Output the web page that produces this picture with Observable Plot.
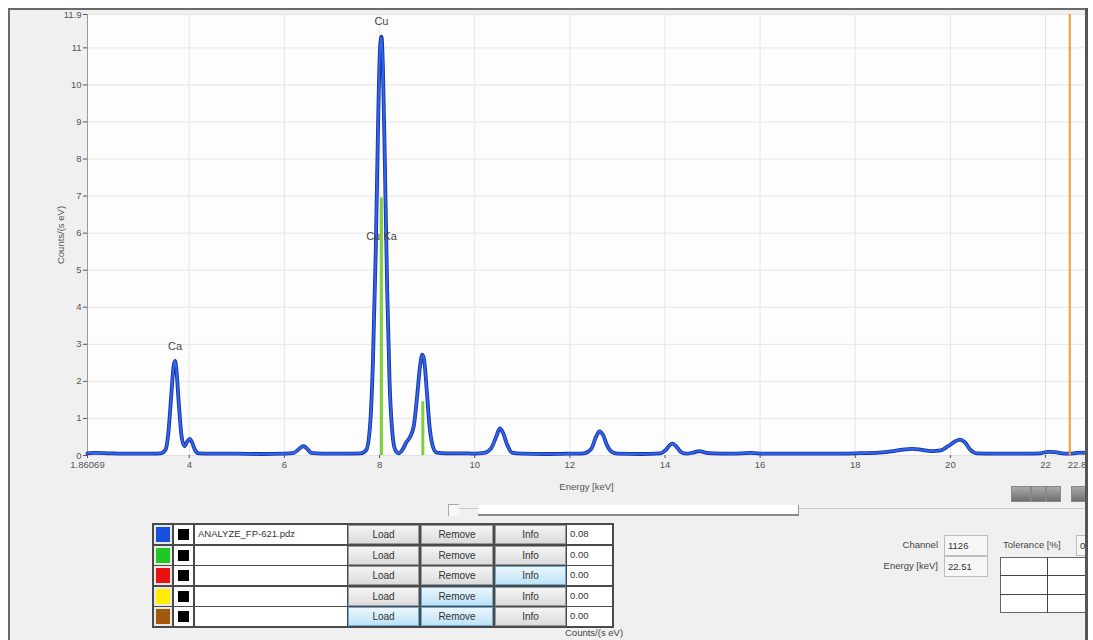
<!DOCTYPE html>
<html><head><meta charset="utf-8">
<script src="https://cdn.jsdelivr.net/npm/d3@7"></script>
<script src="https://cdn.jsdelivr.net/npm/@observablehq/plot@0.6"></script>
<style>
body{margin:0;background:#fff;font-family:"Liberation Sans",Arial,sans-serif;}
#wrap{position:relative;width:1093px;height:640px;overflow:hidden;background:#fff;}
#frame{position:absolute;left:8px;top:8px;width:1076px;height:640px;background:#f0f0f0;border-left:2px solid #6a6a6a;border-top:2px solid #6a6a6a;border-right:3px solid #555;}
#chart{position:absolute;left:0;top:0;}
.abs{position:absolute;}
.btn{position:absolute;box-sizing:border-box;border:1px solid #9a9a9a;background:linear-gradient(#f4f4f4,#dcdcdc);font-size:10px;color:#333;text-align:center;line-height:17px;}
.btn.hi{border-color:#6fa8d0;background:linear-gradient(#eaf6fd,#bde3f7);}
.fld{position:absolute;box-sizing:border-box;background:#fff;font-size:9.5px;color:#333;line-height:17px;padding-left:3px;}
.lab{position:absolute;font-size:9.5px;color:#444;}
.box{position:absolute;box-sizing:border-box;border:1px solid #bdbdbd;background:#f6f6f6;font-size:9.5px;color:#333;padding-left:3px;line-height:19px;}
</style>
</head><body>
<div id="wrap">
  <div id="frame"></div>
  <div id="chart"></div>
  <div id="ui"></div>
</div>
<script>
// ---- spectrum data ----
const energy = [1.86,2.0,2.3,2.6,2.9,3.2,3.4,3.5,3.56,3.62,3.67,3.70,3.73,3.78,3.84,3.90,3.96,4.01,4.06,4.12,4.2,4.5,5.0,5.5,6.0,6.2,6.3,6.4,6.48,6.56,6.8,7.2,7.6,7.72,7.80,7.86,7.92,7.97,8.01,8.04,8.07,8.11,8.16,8.21,8.27,8.33,8.40,8.48,8.56,8.64,8.72,8.79,8.85,8.90,8.94,8.99,9.05,9.12,9.2,9.4,9.7,10.0,10.2,10.35,10.45,10.53,10.6,10.68,10.78,11.0,11.5,12.0,12.3,12.45,12.55,12.62,12.7,12.78,12.88,13.0,13.5,13.9,14.02,14.1,14.16,14.24,14.33,14.45,14.6,14.72,14.85,15.0,15.4,15.8,16.1,16.5,17.0,17.5,18.0,18.5,18.8,19.0,19.2,19.4,19.6,19.8,19.95,20.1,20.2,20.3,20.42,20.55,21.0,21.5,21.9,22.05,22.2,22.4,22.6,22.75,22.84];
const counts = [0.06,0.07,0.06,0.05,0.05,0.05,0.06,0.15,0.6,1.6,2.4,2.55,2.3,1.4,0.5,0.25,0.38,0.45,0.35,0.15,0.06,0.05,0.05,0.04,0.05,0.07,0.17,0.25,0.18,0.07,0.05,0.05,0.06,0.15,0.8,2.5,5.5,9.0,11.0,11.3,10.5,8.0,4.5,2.0,0.6,0.15,0.06,0.15,0.35,0.5,0.8,1.6,2.4,2.72,2.55,1.8,0.8,0.25,0.08,0.06,0.06,0.05,0.07,0.2,0.5,0.73,0.6,0.3,0.08,0.05,0.04,0.05,0.06,0.18,0.5,0.65,0.55,0.28,0.1,0.05,0.04,0.06,0.15,0.28,0.32,0.24,0.1,0.05,0.08,0.12,0.08,0.06,0.05,0.07,0.05,0.05,0.05,0.05,0.06,0.08,0.12,0.16,0.18,0.15,0.12,0.14,0.25,0.38,0.43,0.36,0.15,0.06,0.05,0.05,0.06,0.1,0.09,0.05,0.06,0.08,0.07];

// element lines (green markers)
const lineEnergy = [8.04, 8.91];
const lineHeight = [6.95, 1.45];

// peak labels
const labelText = ["Cu", "Cu Ka", "Ca"];
const labelE = [8.04, 8.04, 3.70];
const labelY = [11.7, 5.92, 2.95];

// cursor
const cursorEnergy = [22.51];

// axes
const xTicks = [1.86069, 4, 6, 8, 10, 12, 14, 16, 18, 20, 22];
const xEndTick = [22.84];
const yTicks = [0,1,2,3,4,5,6,7,8,9,10,11,11.9];
const xGrid = [4,6,8,10,12,14,16,18,20,22];
const yGrid = [1,2,3,4,5,6,7,8,9,10,11];

// UI table
const swatchColors = ["#1550e0", "#22c822", "#e81010", "#ffee00", "#a05a0a"];
const fileNames = ["ANALYZE_FP-621.pdz", "", "", "", ""];
const rowValues = ["0.08", "0.00", "0.00", "0.00", "0.00"];
const buttonNames = ["Load", "Remove", "Info"];
const highlighted = [[], [], ["Info"], ["Remove"], ["Load", "Remove"]];

const spectrum = energy.map((e, i) => ({e, c: counts[i]}));
const lines = lineEnergy.map((e, i) => ({e, h: lineHeight[i]}));
const labels = labelText.map((t, i) => ({t, e: labelE[i], y: labelY[i]}));

const chart = Plot.plot({
  width: 1093, height: 500,
  marginLeft: 87, marginRight: 8, marginTop: 14, marginBottom: 45,
  style: {background: "transparent", fontFamily: "Liberation Sans, Arial, sans-serif", fontSize: "10px", color: "#555"},
  x: {domain: [1.86069, 22.84]},
  y: {domain: [0, 11.9]},
  marks: [
    Plot.frame({fill: "#fdfdfd", stroke: "#e2e2e2"}),
    Plot.ruleX(xGrid, {stroke: "#e6e6e6"}),
    Plot.ruleY(yGrid, {stroke: "#e6e6e6"}),
    Plot.ruleX([22], {stroke: "#d8e6f2"}),
    Plot.ruleX([1.86069], {stroke: "#9a9a9a"}),
    Plot.axisX({ticks: xTicks, tickSize: 3, tickPadding: 3, tickFormat: d => d === 1.86069 ? "1.86069" : String(d),
      label: "Energy [keV]", labelAnchor: "center", labelArrow: "none", labelOffset: 34, fontSize: 9.5}),
    Plot.axisX({ticks: xEndTick, tickSize: 3, tickPadding: 3, tickFormat: d => String(d), textAnchor: "end", dx: 6, label: null, fontSize: 9.5}),
    Plot.axisY({ticks: yTicks, tickSize: 4, tickPadding: 2, tickFormat: d => String(d),
      label: "Counts/(s eV)", labelAnchor: "center", labelArrow: "none", labelOffset: 30, fontSize: 9.5}),
    Plot.line(spectrum, {x: "e", y: "c", stroke: "#1c2f9c", strokeWidth: 3.8, curve: "monotone-x"}),
    Plot.line(spectrum, {x: "e", y: "c", stroke: "#2d66ee", strokeWidth: 2.1, curve: "monotone-x"}),
    Plot.ruleX(lines, {x: "e", y1: 0, y2: "h", stroke: "#7fd23c", strokeWidth: 3}),
    Plot.ruleX(cursorEnergy, {stroke: "#f0a030", strokeWidth: 2}),
    Plot.text(labels, {x: "e", y: "y", text: "t", fill: "#444", fontSize: 11})
  ]
});
document.getElementById("chart").appendChild(chart);

// ---- UI widgets ----
const ui = document.getElementById("ui");
function add(cls, style, text) {
  const d = document.createElement("div");
  d.className = cls;
  Object.assign(d.style, style);
  if (text != null) d.textContent = text;
  ui.appendChild(d);
  return d;
}
// toolbar icons
[[1011,18],[1031,13],[1046,13],[1071,14]].forEach(([l,w]) => add("abs", {left: l+"px", top: "486px", width: w+"px", height: "14px", background: "linear-gradient(#a8a8a8,#707070)", border: "1px solid #888"}));
// scrollbar
add("abs", {left: "448px", top: "508px", width: "637px", height: "1px", background: "#c8c8c8"});
add("abs", {left: "448px", top: "504px", width: "10px", height: "11px", borderLeft: "1px solid #aaa", borderTop: "1px solid #aaa", background: "#f8f8f8"});
add("abs", {left: "478px", top: "505px", width: "320px", height: "9px", background: "#fff", borderBottom: "2px solid #8a8a8a", borderRight: "1px solid #999"});

// table
add("abs", {left: "152px", top: "523px", width: "462px", height: "105px", background: "#4a4a4a"});
const cols = {Load: [348, 71], Remove: [421, 72], Info: [495, 71]};
for (let i = 0; i < 5; i++) {
  const top = 525 + i * 20.6;
  add("abs", {left: "154px", top: top+"px", width: "18px", height: "19px", background: "#e8e8e8"});
  add("abs", {left: "156px", top: (top+2)+"px", width: "14px", height: "15px", background: swatchColors[i]});
  add("abs", {left: "174px", top: top+"px", width: "19px", height: "19px", background: "#fff"});
  add("abs", {left: "178px", top: (top+4)+"px", width: "11px", height: "11px", background: "#000"});
  add("fld", {left: "195px", top: top+"px", width: "152px", height: "19px"}, fileNames[i]);
  buttonNames.forEach(b => {
    add("btn" + (highlighted[i].includes(b) ? " hi" : ""), {left: cols[b][0]+"px", top: top+"px", width: cols[b][1]+"px", height: "19px"}, b);
  });
  add("fld", {left: "567px", top: top+"px", width: "45px", height: "19px"}, rowValues[i]);
}
add("lab", {left: "565px", top: "627px"}, "Counts/(s eV)");

// right panel
add("lab", {left: "880px", top: "539px", width: "58px", textAlign: "right"}, "Channel");
add("lab", {left: "860px", top: "560px", width: "78px", textAlign: "right"}, "Energy [keV]");
add("box", {left: "944px", top: "535px", width: "44px", height: "21px"}, "1126");
add("box", {left: "944px", top: "556px", width: "44px", height: "21px"}, "22.51");
add("lab", {left: "1003px", top: "539px"}, "Tolerance [%]");
add("box", {left: "1076px", top: "535px", width: "20px", height: "21px"}, "0");
add("abs", {left: "1000px", top: "557px", width: "93px", height: "56px", background: "#fff", border: "1px solid #666", boxSizing: "border-box"});
add("abs", {left: "1000px", top: "575px", width: "93px", height: "1px", background: "#444"});
add("abs", {left: "1000px", top: "594px", width: "93px", height: "1px", background: "#444"});
add("abs", {left: "1047px", top: "557px", width: "1px", height: "56px", background: "#444"});
// frame right edge over widgets
add("abs", {left: "1085px", top: "8px", width: "3px", height: "640px", background: "#555"});
add("abs", {left: "1088px", top: "0px", width: "5px", height: "640px", background: "#fff"});
</script>
</body></html>
